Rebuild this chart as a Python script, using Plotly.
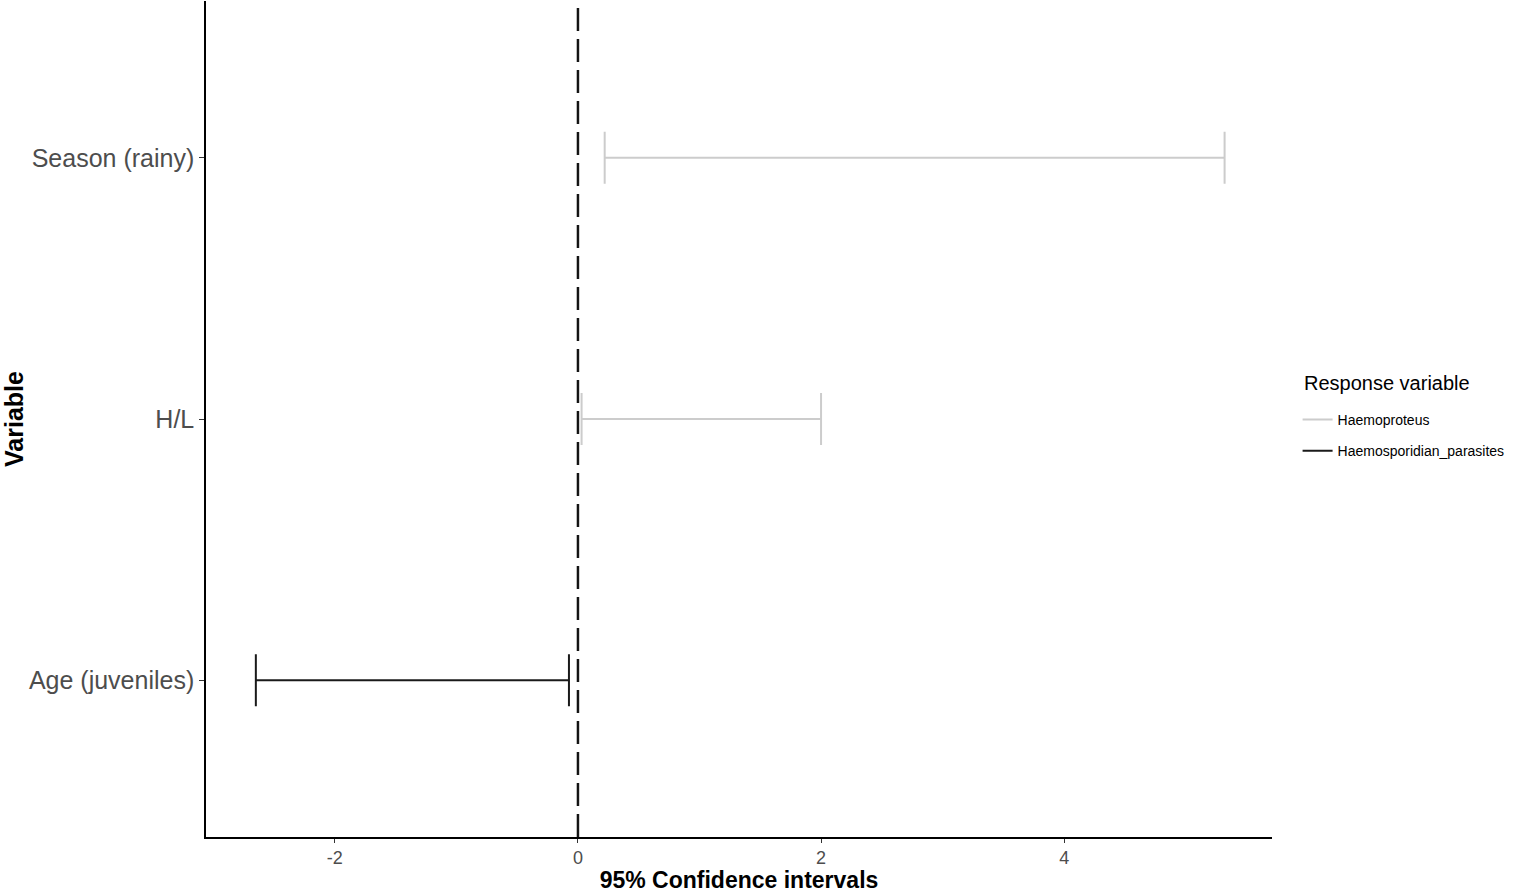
import plotly.graph_objects as go

categories = ["Age (juveniles)", "H/L", "Season (rainy)"]

# Haemoproteus intervals
haemo_vars = ["Season (rainy)", "H/L"]
haemo_lo = [0.22, 0.03]
haemo_hi = [5.32, 2.0]

# Haemosporidian_parasites intervals
parasite_vars = ["Age (juveniles)"]
parasite_lo = [-2.65]
parasite_hi = [-0.074]

x_ticks = [-2, 0, 2, 4]

fig = go.Figure()

def add_group(name, vars_, lo, hi, color):
    xs, ys = [], []
    for v, a, b in zip(vars_, lo, hi):
        xs += [a, b, None]
        ys += [v, v, None]
    fig.add_trace(go.Scatter(
        x=xs, y=ys, mode="lines", name=name, legendgroup=name,
        line=dict(color=color, width=2),
        hoverinfo="skip",
    ))
    cx, cy = [], []
    for v, a, b in zip(vars_, lo, hi):
        cx += [a, b]
        cy += [v, v]
    fig.add_trace(go.Scatter(
        x=cx, y=cy, mode="markers", showlegend=False, legendgroup=name,
        marker=dict(size=1, opacity=0),
        error_x=dict(type="data", array=[0] * len(cx), width=26,
                     thickness=2, color=color),
        hoverinfo="skip",
    ))

add_group("Haemoproteus", haemo_vars, haemo_lo, haemo_hi, "#CCCCCC")
add_group("Haemosporidian_parasites", parasite_vars, parasite_lo, parasite_hi, "#1A1A1A")

fig.add_shape(type="line", xref="x", yref="paper", x0=0, x1=0, y0=0, y1=1,
              line=dict(color="#999999", width=3, dash="23px,8px"), layer="above")
fig.add_shape(type="line", xref="x", yref="paper", x0=0, x1=0, y0=0, y1=1,
              line=dict(color="#111111", width=2, dash="23px,8px"), layer="above")

fig.add_annotation(
    text="Response variable", xref="paper", yref="paper",
    x=1.0285, y=0.543, xanchor="left", yanchor="middle", showarrow=False,
    font=dict(size=20, color="#000000"),
)

fig.update_layout(
    width=1535, height=893,
    margin=dict(l=206, r=263, t=1, b=56),
    plot_bgcolor="white", paper_bgcolor="white",
    font=dict(family="Liberation Sans, Arial, sans-serif", color="#000000"),
    xaxis=dict(
        range=[-3.06, 5.71], tickvals=x_ticks, ticktext=[str(t) for t in x_ticks],
        showgrid=False, zeroline=False, showline=True, linecolor="#000000", linewidth=1.5,
        ticks="outside", ticklen=4, tickcolor="#333333", tickwidth=1.2,
        tickfont=dict(size=18, color="#4D4D4D"),
        title=dict(text="<b>95% Confidence intervals</b>", font=dict(size=23, color="#000000"), standoff=0),
    ),
    yaxis=dict(
        type="category", categoryorder="array", categoryarray=categories,
        range=[-0.6, 2.6],
        showgrid=False, zeroline=False, showline=True, linecolor="#000000", linewidth=1.5,
        ticks="outside", ticklen=5, tickcolor="#333333", tickwidth=1.2,
        tickfont=dict(size=25, color="#4D4D4D"),
        title=dict(text="<b>Variable</b>", font=dict(size=25, color="#000000"), standoff=6),
    ),
    legend=dict(
        x=1.024, xanchor="left", y=0.518, yanchor="top",
        font=dict(size=14, color="#000000"),
        bgcolor="rgba(0,0,0,0)", tracegroupgap=10, itemwidth=30,
        traceorder="grouped",
    ),
    showlegend=True,
)

fig.write_html("out.html", config={"displayModeBar": False},
               post_script="document.body.style.margin='0';")
